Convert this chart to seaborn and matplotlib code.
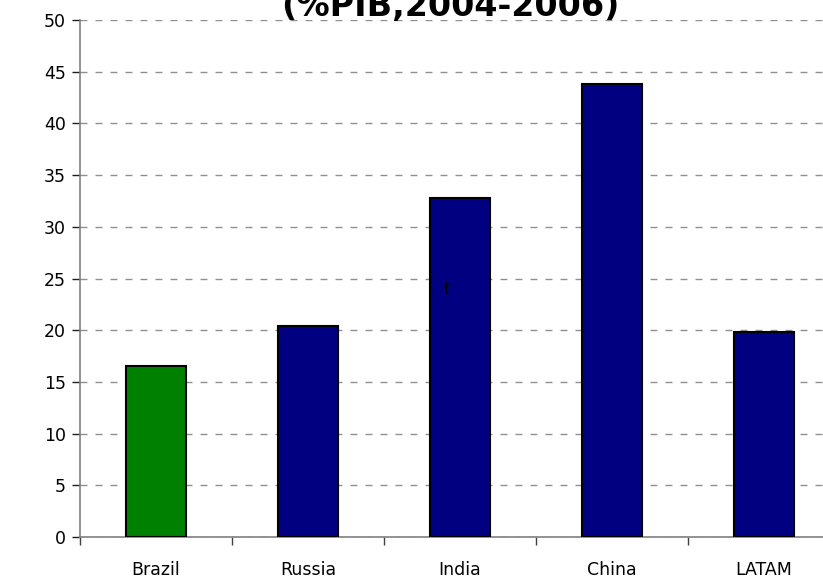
import pandas as pd
import matplotlib
matplotlib.use('Agg')
import matplotlib.pyplot as plt
import seaborn as sns

# Data
countries = ['Brazil', 'Russia', 'India', 'China', 'LATAM']
values = [16.5, 20.4, 32.8, 43.8, 19.8]
bar_colors = ['#008000', '#000080', '#000080', '#000080', '#000080']
title_text = '(%PIB,2004-2006)'
y_ticks = [0, 5, 10, 15, 20, 25, 30, 35, 40, 45, 50]

df = pd.DataFrame({'country': countries, 'value': values})

sns.set_style('white')
plt.rcParams['font.family'] = ['DejaVu Sans']
plt.rcParams['text.color'] = 'black'
plt.rcParams['xtick.color'] = 'black'
plt.rcParams['ytick.color'] = 'black'

fig = plt.figure(figsize=(8.23, 5.81), dpi=100)
# axes runs past the right edge of the picture, as in the reference
ax = fig.add_axes([80 / 823, 44 / 581, 760 / 823, 517 / 581])

sns.barplot(data=df, x='country', y='value', hue='country',
            palette=dict(zip(countries, bar_colors)), legend=False, saturation=1,
            width=0.4, edgecolor='black', linewidth=1.5, ax=ax, zorder=3)

ax.set_xlim(-0.5, len(countries) - 0.5)
ax.set_ylim(0, 50)
ax.set_yticks(y_ticks)
ax.yaxis.grid(True, color='#909090', linestyle=(0, (5, 5.8)), linewidth=1, zorder=0)
ax.set_axisbelow(True)

# labels at centres, tick marks at category boundaries
ax.set_xticks(range(len(countries)))
ax.set_xticklabels(countries)
ax.set_xticks([i - 0.5 for i in range(len(countries) + 1)], minor=True)
ax.tick_params(axis='x', which='major', bottom=True, length=0, pad=17, labelsize=12.5,
               labelcolor='black')
ax.tick_params(axis='x', which='minor', bottom=True, length=6, width=1,
               color='#404040', direction='out')
ax.tick_params(axis='y', left=True, length=6, width=1, color='#202020', direction='out',
               labelsize=12.5, pad=4, labelcolor='black')

for side in ['top', 'right']:
    ax.spines[side].set_visible(False)
for side in ['left', 'bottom']:
    ax.spines[side].set_color('#808080')
    ax.spines[side].set_linewidth(1.2)

ax.set_xlabel('')
ax.set_ylabel('')

# stray label inside the India bar
ax.text(1.91, 24, 't', fontsize=12, ha='center', va='center', color='black', zorder=5)

fig.text(450 / 823, 1 - 16 / 581, title_text, ha='center', va='baseline',
         fontsize=24, fontweight='bold', color='black')

fig.savefig('out.png', dpi=100)
